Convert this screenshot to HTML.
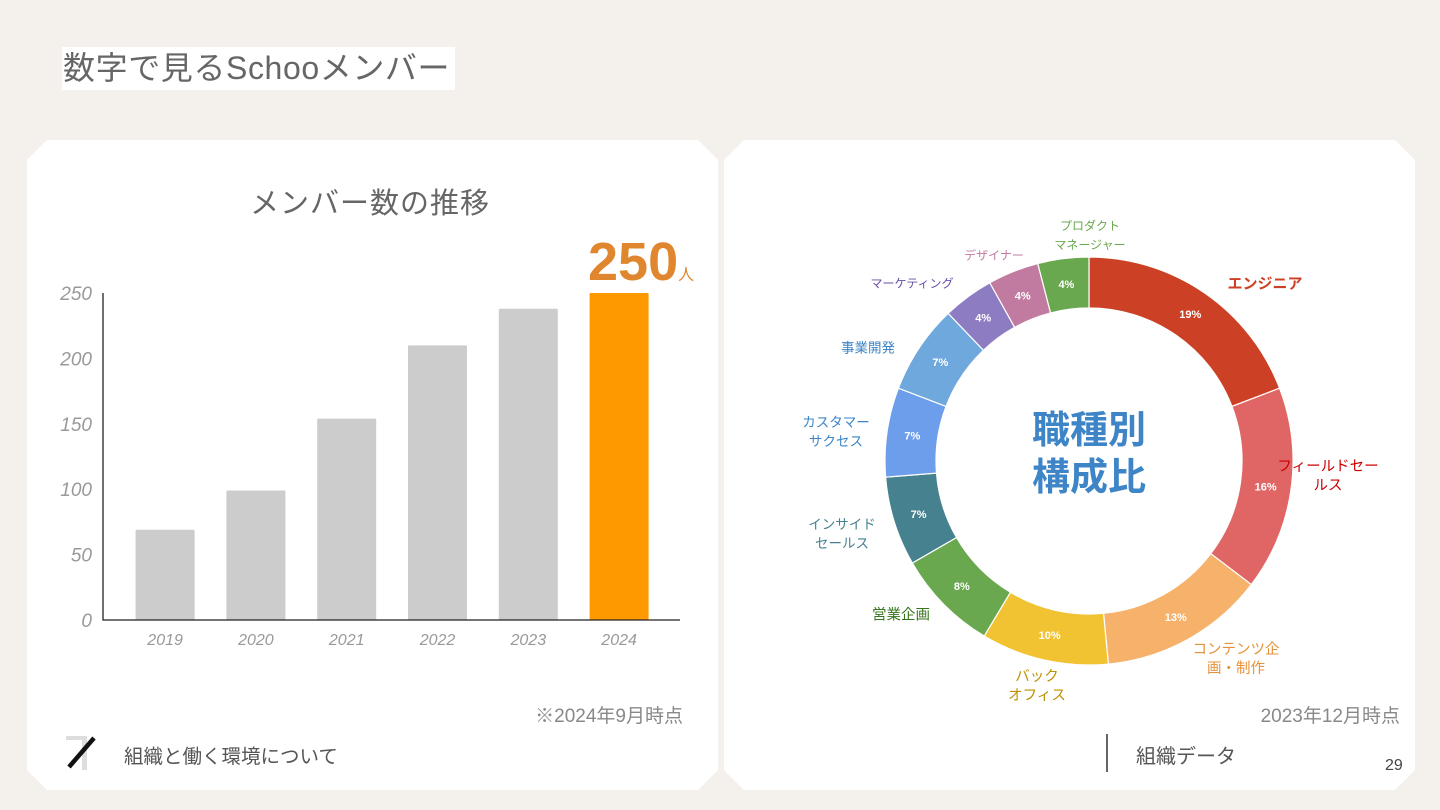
<!DOCTYPE html>
<html><head><meta charset="utf-8">
<style>
*{margin:0;padding:0;box-sizing:border-box}
body{width:1440px;height:810px;background:#f4f1ec;position:relative;overflow:hidden;font-family:"Liberation Sans","Noto Sans CJK JP",sans-serif;color:#555}
.abs{position:absolute}
.card{position:absolute;background:#fff;clip-path:polygon(20px 0,calc(100% - 20px) 0,100% 20px,100% calc(100% - 20px),calc(100% - 20px) 100%,20px 100%,0 calc(100% - 20px),0 20px)}
.lbl{position:absolute;font-size:12.5px;text-align:center;line-height:19px;transform:translate(-50%,-50%);white-space:nowrap}
</style></head><body>
<div class="abs" style="left:62px;top:47px;width:393px;height:43px;background:#fff;font-size:32px;letter-spacing:0.6px;line-height:43px;padding-left:1px;color:#666;white-space:nowrap">数字で見るSchooメンバー</div>

<div class="card" style="left:27px;top:140px;width:691px;height:650px"></div>
<div class="card" style="left:724px;top:140px;width:691px;height:650px"></div>

<div class="abs" style="left:200px;top:180px;width:340px;text-align:center;font-size:29px;color:#666;letter-spacing:1px">メンバー数の推移</div>
<div class="abs" style="left:588px;top:230px;font-size:54px;font-weight:bold;color:#e0862f;line-height:64px">250<span style="font-size:16px;font-weight:normal">人</span></div>

<svg class="abs" style="left:0;top:0" width="720" height="680" id="bar"></svg>

<div class="abs" style="left:500px;width:183px;text-align:right;top:701px;font-size:19px;color:#888">※2024年9月時点</div>
<svg class="abs" style="left:66px;top:734px" width="36" height="38"><rect x="0" y="2" width="20" height="4" fill="#ddd"/><rect x="16" y="2" width="5" height="34" fill="#ddd"/><line x1="3" y1="33" x2="28" y2="4" stroke="#111" stroke-width="4.5"/></svg>
<div class="abs" style="left:124px;top:740px;font-size:19.5px;color:#555">組織と働く環境について</div>

<svg class="abs" style="left:0;top:0" width="1440" height="810" id="donut"></svg>

<div class="abs" style="left:995px;top:408px;width:188px;text-align:center;font-size:38px;line-height:47px;color:#3d85c6;font-weight:bold">職種別<br>構成比</div>

<div class="lbl" style="left:1090px;top:236px;color:#6aa84f;font-size:12px">プロダクト<br>マネージャー</div>
<div class="lbl" style="left:994px;top:256px;color:#c27ba0;font-size:12px">デザイナー</div>
<div class="lbl" style="left:912px;top:284px;color:#674ea7;font-size:12px">マーケティング</div>
<div class="lbl" style="left:868px;top:348px;color:#3d85c6;font-size:13.5px">事業開発</div>
<div class="lbl" style="left:836px;top:432px;color:#3d85c6;font-size:13.5px">カスタマー<br>サクセス</div>
<div class="lbl" style="left:842px;top:534px;color:#45818e;font-size:13.5px">インサイド<br>セールス</div>
<div class="lbl" style="left:901px;top:616px;color:#38761d;font-size:14.5px">営業企画</div>
<div class="lbl" style="left:1037px;top:687px;color:#bf9000;font-size:14.5px">バック<br>オフィス</div>
<div class="lbl" style="left:1236px;top:660px;color:#e69138;font-size:14.5px">コンテンツ企<br>画・制作</div>
<div class="lbl" style="left:1328px;top:477px;color:#cc0000;font-size:14.5px">フィールドセー<br>ルス</div>
<div class="lbl" style="left:1265px;top:284px;color:#cc4125;font-size:15px;font-weight:bold">エンジニア</div>

<div class="abs" style="left:1230px;width:170px;text-align:right;top:701px;font-size:19px;color:#888">2023年12月時点</div>
<div class="abs" style="left:1106px;top:734px;width:2px;height:38px;background:#666"></div>
<div class="abs" style="left:1136px;top:740px;font-size:20px;color:#555">組織データ</div>
<div class="abs" style="left:1385px;top:757px;font-size:16px;color:#444">29</div>

<script>
const years = ["2019","2020","2021","2022","2023","2024"];
const members = [69, 99, 154, 210, 238, 250];
const yTicks = [0, 50, 100, 150, 200, 250];

const roles = ["エンジニア","フィールドセールス","コンテンツ企画・制作","バックオフィス","営業企画","インサイドセールス","カスタマーサクセス","事業開発","マーケティング","デザイナー","プロダクトマネージャー"];
const shares = [19, 16, 13, 10, 8, 7, 7, 7, 4, 4, 4];
const roleColors = ["#cc4125","#e06666","#f6b26b","#f1c232","#6aa84f","#45818e","#6d9eeb","#6fa8dc","#8e7cc3","#c27ba0","#6aa84f"];

const NS="http://www.w3.org/2000/svg";
function mk(tag, attrs, parent){const e=document.createElementNS(NS,tag);for(const k in attrs)e.setAttribute(k,attrs[k]);parent.appendChild(e);return e;}

const bar=document.getElementById('bar');
const x0=103,x1=680,yb=620,yt=293,ymax=250;
const yS=v=>yb-(v/ymax)*(yb-yt);
const step=90.8, bw=59, xStart=119.7;
const xC=i=>xStart+step*i+step/2;
yTicks.forEach(t=>{
  const tx=mk('text',{x:92,y:yS(t)+7,'text-anchor':'end','font-size':19,'font-style':'italic',fill:'#999','font-family':'Liberation Sans, sans-serif'},bar);
  
  
  tx.textContent=t;
});
members.forEach((v,i)=>{
  const r=mk('rect',{x:xC(i)-bw/2,y:yS(v),width:bw,height:yb-yS(v),fill:i===members.length-1?'#ff9900':'#cccccc',rx:1},bar);
  
  
  const tx=mk('text',{x:xC(i),y:645,'text-anchor':'middle','font-size':16,'font-style':'italic',fill:'#999','font-family':'Liberation Sans, sans-serif'},bar);
  
  
  tx.textContent=years[i];
});
const ax=mk('path',{d:`M${x0} ${yt}V${yb}H${x1}`,stroke:'#222','stroke-width':1.3,fill:'none'},bar);



const dn=document.getElementById('donut');
const cx=1089,cy=461,R=204,r0=153;
const total=shares.reduce((a,b)=>a+b,0);
let acc=0;
const pt=(a,rr)=>[cx+rr*Math.sin(a),cy-rr*Math.cos(a)];
shares.forEach((v,i)=>{
  const a0=acc/total*2*Math.PI; acc+=v; const a1=acc/total*2*Math.PI;
  const lg=(a1-a0)>Math.PI?1:0;
  const [ax0,ay0]=pt(a0,R),[ax1,ay1]=pt(a1,R),[bx1,by1]=pt(a1,r0),[bx0,by0]=pt(a0,r0);
  const p=mk('path',{d:`M${ax0} ${ay0}A${R} ${R} 0 ${lg} 1 ${ax1} ${ay1}L${bx1} ${by1}A${r0} ${r0} 0 ${lg} 0 ${bx0} ${by0}Z`,fill:roleColors[i],stroke:'#fff','stroke-width':1.2},dn);
  
  
  const [lx,ly]=pt((a0+a1)/2,(R+r0)/2);
  const t=mk('text',{x:lx,y:ly+4,'text-anchor':'middle','font-size':11,'font-weight':'bold',fill:'#fff','font-family':'Liberation Sans, sans-serif'},dn);
  
  
  t.textContent=v+'%';
});
</script>
</body></html>
